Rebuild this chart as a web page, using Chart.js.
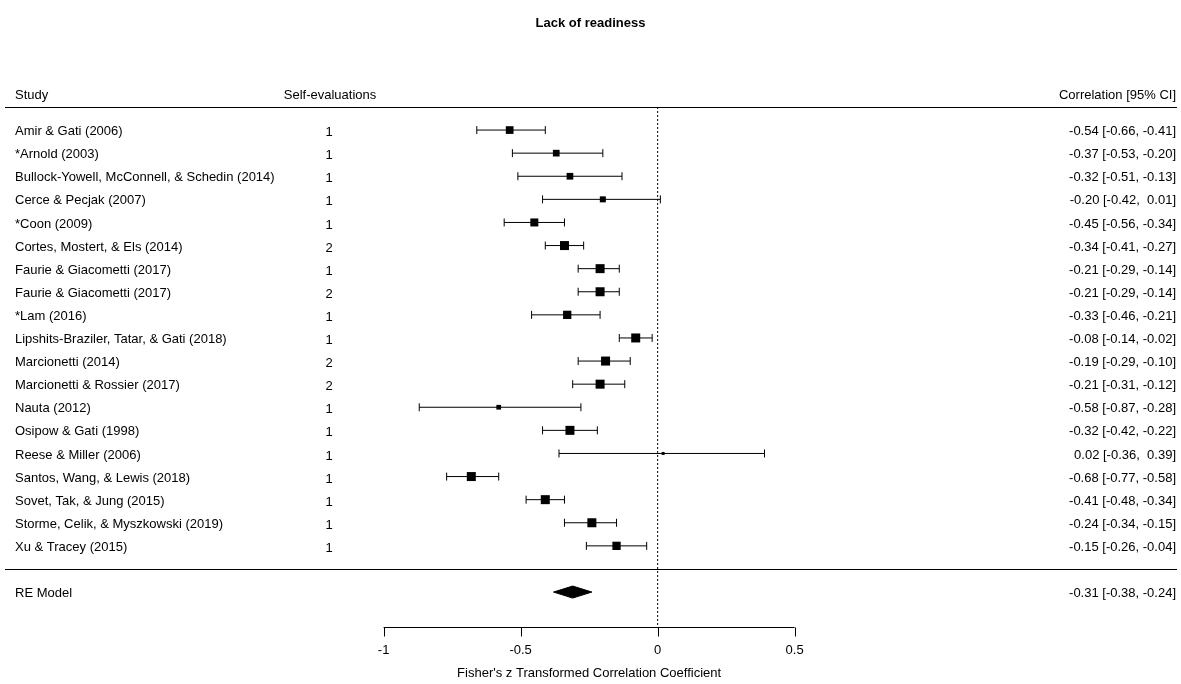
<!DOCTYPE html>
<html>
<head>
<meta charset="utf-8">
<script src="https://cdn.jsdelivr.net/npm/chart.js@4.4.1/dist/chart.umd.min.js"></script>
<style>
  html, body { margin: 0; padding: 0; background: #fff; }
  #wrap { width: 1181px; height: 684px; position: relative; }
</style>
</head>
<body>
<div id="wrap"><canvas id="forest"></canvas></div>
<script>
// studies, top to bottom
const studies = [
  'Amir & Gati (2006)',
  '*Arnold (2003)',
  'Bullock-Yowell, McConnell, & Schedin (2014)',
  'Cerce & Pecjak (2007)',
  '*Coon (2009)',
  'Cortes, Mostert, & Els (2014)',
  'Faurie & Giacometti (2017)',
  'Faurie & Giacometti (2017)',
  '*Lam (2016)',
  'Lipshits-Braziler, Tatar, & Gati (2018)',
  'Marcionetti (2014)',
  'Marcionetti & Rossier (2017)',
  'Nauta (2012)',
  'Osipow & Gati (1998)',
  'Reese & Miller (2006)',
  'Santos, Wang, & Lewis (2018)',
  'Sovet, Tak, & Jung (2015)',
  'Storme, Celik, & Myszkowski (2019)',
  'Xu & Tracey (2015)'
];
const selfEval = [1, 1, 1, 1, 1, 2, 1, 2, 1, 1, 2, 2, 1, 1, 1, 1, 1, 1, 1];
const est    = [-0.54, -0.37, -0.32, -0.20, -0.45, -0.34, -0.21, -0.21, -0.33, -0.08, -0.19, -0.21, -0.58, -0.32, 0.02, -0.68, -0.41, -0.24, -0.15];
const ciLow  = [-0.66, -0.53, -0.51, -0.42, -0.56, -0.41, -0.29, -0.29, -0.46, -0.14, -0.29, -0.31, -0.87, -0.42, -0.36, -0.77, -0.48, -0.34, -0.26];
const ciHigh = [-0.41, -0.20, -0.13, 0.01, -0.34, -0.27, -0.14, -0.14, -0.21, -0.02, -0.10, -0.12, -0.28, -0.22, 0.39, -0.58, -0.34, -0.15, -0.04];
// relative weight -> square side in px
const boxSide = [7.7, 6.7, 6.7, 6, 8, 9, 9, 9, 8.3, 9, 9, 9, 4.7, 9, 3, 9, 9, 9, 8.3];

// RE model summary
const reEst = -0.31;
const reLow = -0.38;
const reHigh = -0.24;

const tickVals = [-1, -0.5, 0, 0.5];
const tickLabels = ['-1', '-0.5', '0', '0.5'];

// row positions (in y units, 1 per study)
const reRow = 20;
const headerRow = -1.5;
const topLineRow = -1;
const sepRow = 19;
const axisRow = 21.5;

const FONT = '"Liberation Sans", Arial, Helvetica, sans-serif';

const fmt = v => v.toFixed(2).padStart(5, ' ');
const ciLabel = (e, l, h) => `${fmt(e)} [${fmt(l)}, ${fmt(h)}]`;

// whisker segments, broken by null points
const whiskers = [];
est.forEach((v, i) => {
  whiskers.push({ x: ciLow[i], y: i }, { x: ciHigh[i], y: i }, { x: null, y: null });
});
const caps = [];
est.forEach((v, i) => {
  caps.push({ x: ciLow[i], y: i }, { x: ciHigh[i], y: i });
});

const dHalf = 0.26;
const diamond = [
  { x: reLow, y: reRow },
  { x: reEst, y: reRow - dHalf },
  { x: reHigh, y: reRow },
  { x: reEst, y: reRow + dHalf },
  { x: reLow, y: reRow }
];

const forestText = {
  id: 'forestText',
  afterDraw(chart) {
    const { ctx, chartArea } = chart;
    const x = chart.scales.x, y = chart.scales.y;
    const L = chartArea.left, R = chartArea.right;
    ctx.save();

    // horizontal rules
    ctx.strokeStyle = '#000';
    ctx.lineWidth = 1;
    ctx.beginPath();
    ctx.moveTo(L + 5, Math.round(y.getPixelForValue(topLineRow)) + 0.5);
    ctx.lineTo(R - 4, Math.round(y.getPixelForValue(topLineRow)) + 0.5);
    ctx.moveTo(L + 5, Math.round(y.getPixelForValue(sepRow)) + 0.5);
    ctx.lineTo(R - 4, Math.round(y.getPixelForValue(sepRow)) + 0.5);
    ctx.stroke();

    // x axis
    const ay = Math.round(y.getPixelForValue(axisRow)) + 0.5;
    ctx.beginPath();
    ctx.moveTo(x.getPixelForValue(tickVals[0]), ay);
    ctx.lineTo(x.getPixelForValue(tickVals[tickVals.length - 1]), ay);
    tickVals.forEach(t => {
      const px = Math.round(x.getPixelForValue(t)) + 0.5;
      ctx.moveTo(px, ay);
      ctx.lineTo(px, ay + 9);
    });
    ctx.stroke();

    ctx.fillStyle = '#000';
    ctx.textBaseline = 'middle';
    ctx.font = '13px ' + FONT;
    ctx.textAlign = 'center';
    tickVals.forEach((t, i) => {
      ctx.fillText(tickLabels[i], x.getPixelForValue(t), ay + 23);
    });
    ctx.fillText("Fisher's z Transformed Correlation Coefficient", x.getPixelForValue(-0.25), ay + 46);

    // headers
    const hy = y.getPixelForValue(headerRow);
    ctx.textAlign = 'left';
    ctx.fillText('Study', L + 15, hy);
    ctx.textAlign = 'center';
    ctx.fillText('Self-evaluations', L + 330, hy);
    ctx.textAlign = 'right';
    ctx.fillText('Correlation [95% CI]', R - 5, hy);

    // rows
    studies.forEach((s, i) => {
      const ry = y.getPixelForValue(i) + 1.5;
      ctx.textAlign = 'left';
      ctx.fillText(s, L + 15, ry);
      ctx.textAlign = 'center';
      ctx.fillText(String(selfEval[i]), L + 329, ry + 1);
      ctx.textAlign = 'right';
      ctx.fillText(ciLabel(est[i], ciLow[i], ciHigh[i]), R - 5, ry);
    });

    const rey = y.getPixelForValue(reRow) + 1;
    ctx.textAlign = 'left';
    ctx.fillText('RE Model', L + 15, rey);
    ctx.textAlign = 'right';
    ctx.fillText(ciLabel(reEst, reLow, reHigh), R - 5, rey);

    // title
    ctx.font = 'bold 13px ' + FONT;
    ctx.textAlign = 'center';
    ctx.fillText('Lack of readiness', (L + R) / 2, 23);

    ctx.restore();
  }
};

new Chart(document.getElementById('forest'), {
  type: 'scatter',
  data: {
    datasets: [
      {
        label: 'estimate',
        data: est.map((v, i) => ({ x: v, y: i })),
        pointStyle: 'rect',
        pointRadius: boxSide.map(s => s / Math.SQRT2),
        backgroundColor: '#000',
        borderWidth: 0
      },
      {
        label: 'caps',
        data: caps,
        pointStyle: 'line',
        rotation: 90,
        pointRadius: 4,
        borderColor: '#000',
        borderWidth: 1
      },
      {
        label: 'ci',
        data: whiskers,
        showLine: true,
        spanGaps: false,
        pointRadius: 0,
        borderColor: '#000',
        borderWidth: 1
      },
      {
        label: 'RE',
        data: diamond,
        showLine: true,
        fill: 'shape',
        pointRadius: 0,
        borderColor: '#000',
        backgroundColor: '#000',
        borderWidth: 1
      },
      {
        label: 'zero',
        data: [{ x: 0, y: topLineRow }, { x: 0, y: axisRow }],
        showLine: true,
        pointRadius: 0,
        borderColor: '#000',
        borderWidth: 1,
        borderDash: [2, 2]
      }
    ]
  },
  options: {
    responsive: true,
    maintainAspectRatio: false,
    animation: false,
    events: [],
    layout: { padding: 0, autoPadding: false },
    plugins: {
      legend: { display: false },
      tooltip: { enabled: false },
      title: { display: false }
    },
    scales: {
      x: { type: 'linear', min: -2.40, max: 1.91, display: false },
      y: { type: 'linear', min: -5.63, max: 23.98, reverse: true, display: false }
    }
  },
  plugins: [forestText]
});
</script>
</body>
</html>
